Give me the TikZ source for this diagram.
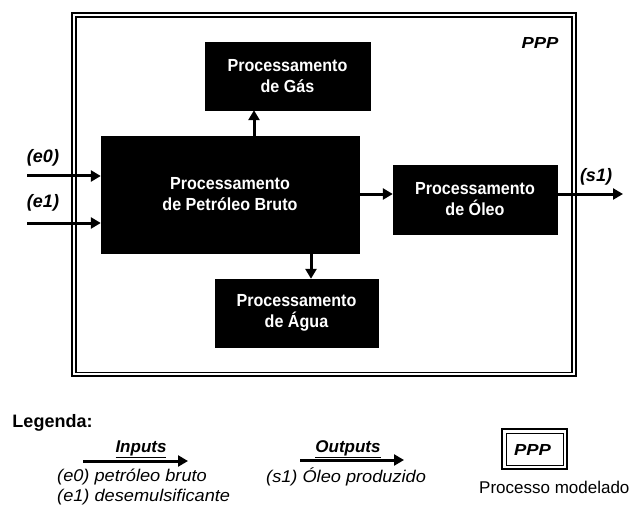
\documentclass[tikz,border=0pt]{standalone}
\usepackage{fontspec}
\setmainfont{Liberation Sans}
\newfontfamily\widefont[FakeStretch=1.07]{Liberation Sans}
\newfontfamily\pppfont[FakeStretch=1.15]{Liberation Sans}
\newfontfamily\narrowfont[FakeStretch=0.92]{Liberation Sans}
\usetikzlibrary{arrows.meta}
\begin{document}
\begin{tikzpicture}[x=1pt,y=-1pt,
  blk/.style={fill=black, draw=black, text=white, align=center,
    font=\narrowfont\fontsize{17.5}{21}\selectfont\bfseries, inner sep=0pt},
  arr/.style={line width=3pt, -{Triangle[length=10pt,width=11pt]}},
  lbl/.style={font=\fontsize{18}{20}\selectfont\bfseries\itshape, inner sep=0pt},
  leg/.style={font=\widefont\fontsize{17}{20}\selectfont\itshape, inner sep=0pt, anchor=west},
  legh/.style={font=\fontsize{17}{20}\selectfont\bfseries\itshape, inner sep=0pt},
  ppptext/.style={font=\pppfont\fontsize{16}{18}\selectfont\bfseries\itshape, inner sep=0pt}]
\useasboundingbox (0,0) rectangle (632,508);
\fill[white] (0,0) rectangle (632,508);

% frame
\draw[line width=2pt] (72,13) rectangle (576,376);
\draw[line width=1.5pt] (76,17) rectangle (572,372.5);
\node[ppptext] (ppp) at (540,43) {PPP};

% blocks
\node[blk, minimum width=165pt, minimum height=68pt] (gas) at (287.5,76) {Processamento\\de Gás};
\node[blk, minimum width=258pt, minimum height=117pt] (bruto) at (230,194.5) {Processamento\\de Petróleo Bruto};
\node[blk, minimum width=164pt, minimum height=69pt] (oleo) at (475,199.5) {Processamento\\de Óleo};
\node[blk, minimum width=163pt, minimum height=68pt] (agua) at (296.5,313) {Processamento\\de Água};

% connectors
\coordinate (xg) at (254,0);
\coordinate (xa) at (311,0);
\coordinate (ym) at (0,194);
\draw[arr] (bruto.north -| xg) -- (gas.south -| xg);
\draw[arr] (bruto.south -| xa) -- (agua.north -| xa);
\draw[arr] (bruto.east |- ym) -- (oleo.west |- ym);
\coordinate (s1end) at (623,194);
\draw[arr] (oleo.east |- ym) -- (s1end);
\coordinate (e0s) at (27,176);
\coordinate (e1s) at (27,223);
\draw[arr] (e0s) -- (e0s -| bruto.west);
\draw[arr] (e1s) -- (e1s -| bruto.west);

\node[lbl] (le0) at (43,158) {(e0)};
\node[lbl] (le1) at (43,203) {(e1)};
\node[lbl] (ls1) at (596,177) {(s1)};

% legend
\node[font=\fontsize{18}{20}\selectfont\bfseries, inner sep=0pt] (legenda) at (52.5,423) {Legenda:};

\coordinate (ia) at (83,461);
\coordinate (ib) at (188,461);
\draw[arr] (ia) -- (ib);
\node[legh] (inputs) at (141,449) {\underline{Inputs}};
\node[leg] (e0t) at (57,477) {(e0) petróleo bruto};
\node[leg] (e1t) at (57,497) {(e1) desemulsificante};

\coordinate (oa) at (300,460);
\coordinate (ob) at (404,460);
\draw[arr] (oa) -- (ob);
\node[legh] (outputs) at (348,449) {\underline{Outputs}};
\node[leg] (s1t) at (266,477) {(s1) Óleo produzido};

\node[draw, line width=2pt, minimum width=65pt, minimum height=40pt] (pppbox) at (534.5,449) {};
\node[draw, line width=1pt, minimum width=57pt, minimum height=32pt] (pppin) at (534.5,449) {};
\node[ppptext] (ppplbl) at (532.5,450) {PPP};
\node[font=\fontsize{17}{20}\selectfont, inner sep=0pt, anchor=west] (pm) at (479,487) {Processo modelado};
\end{tikzpicture}
\end{document}
